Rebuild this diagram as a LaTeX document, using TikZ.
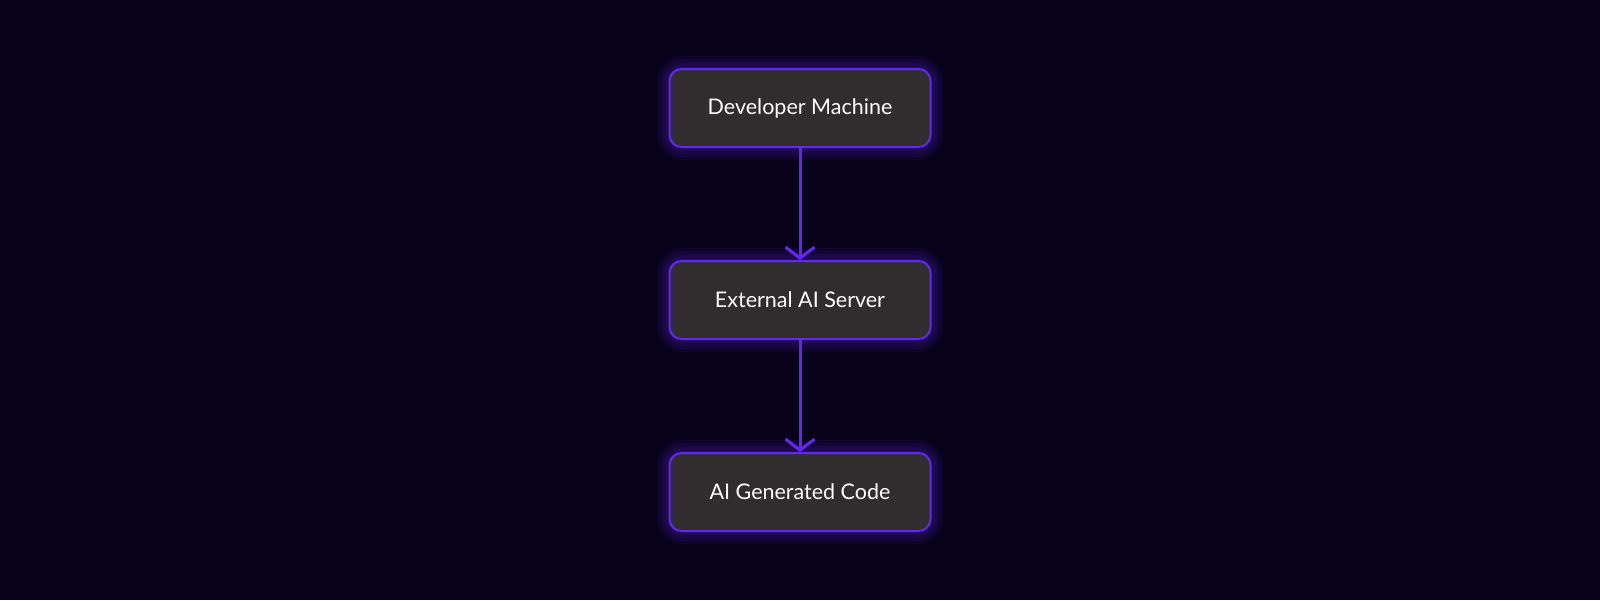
\documentclass[tikz,border=0pt]{standalone}
\usepackage{fontspec}
\setmainfont{Lato}
\usetikzlibrary{positioning,arrows.meta}
\definecolor{bgdark}{HTML}{07021A}
\definecolor{boxfill}{HTML}{2F2D2E}
\definecolor{edgepurple}{HTML}{6228F0}
\tikzset{
  stepbox/.style={draw=edgepurple, line width=2pt, fill=boxfill, rounded corners=12pt,
    minimum width=261pt, minimum height=78pt, text=white, font=\fontsize{21.5}{26}\selectfont},
  glow/.style={draw=edgepurple, line width=#1, rounded corners=14pt, opacity=0.08,
    minimum width=261pt, minimum height=78pt},
  flow/.style={draw=edgepurple, line width=3pt, -{Straight Barb[length=11pt,width=29pt,line width=3pt]}}
}
\begin{document}
\begin{tikzpicture}[x=1pt,y=-1pt]
\fill[bgdark] (0,0) rectangle (1600,600);
\useasboundingbox (0,0) rectangle (1600,600);

% glow layers
\foreach \y in {108,300,492}{
  \foreach \w in {8pt,14pt,20pt,26pt}
    \node[glow=\w] at (800,\y) {};
}

\node[stepbox] (dev) at (800,108) {Developer Machine};
\node[stepbox] (ext) at (800,300) {External AI Server};
\node[stepbox] (code) at (800,492) {AI Generated Code};

\draw[flow] (dev) -- (ext);
\draw[flow] (ext) -- (code);
\end{tikzpicture}
\end{document}
